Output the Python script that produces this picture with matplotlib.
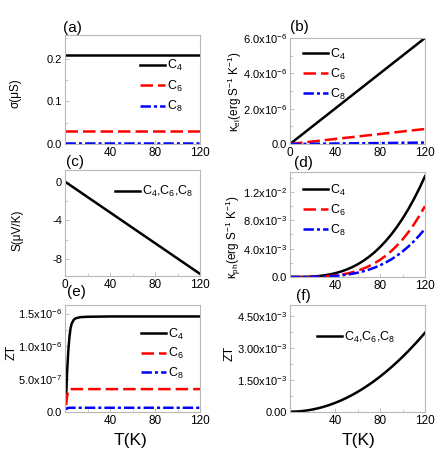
import matplotlib
matplotlib.use("Agg")
import matplotlib.pyplot as plt
from matplotlib import font_manager
from matplotlib.ticker import FixedLocator, MultipleLocator

names = {f.name for f in font_manager.fontManager.ttflist}
FONT = "Liberation Sans Narrow" if "Liberation Sans Narrow" in names else "Liberation Sans"
plt.rcParams["font.family"] = [FONT, "DejaVu Sans"]
plt.rcParams["mathtext.fontset"] = "custom"
plt.rcParams["mathtext.rm"] = FONT
plt.rcParams["mathtext.it"] = FONT
plt.rcParams["mathtext.bf"] = FONT
plt.rcParams["mathtext.default"] = "regular"
plt.rcParams["lines.scale_dashes"] = False

# ---------------- data ----------------
T_flat = [0, 120]
sigma_C4 = [0.21, 0.21]
sigma_C6 = [0.03, 0.03]
sigma_C8 = [0.003, 0.003]

T_lin = [0, 120]
kel_C4 = [0.0, 6.0e-6]
kel_C6 = [0.0, 0.85e-6]
kel_C8 = [0.0, 0.08e-6]

S_all = [0.0, -9.5]

T_grid = [0, 5, 10, 15, 20, 25, 30, 35, 40, 45, 50, 55, 60,
          65, 70, 75, 80, 85, 90, 95, 100, 105, 110, 115, 120]
kph_C4 = [0, 0.000001, 0.0000082, 0.0000277, 0.0000657, 0.000128, 0.000222, 0.000352,
          0.000526, 0.000749, 0.001027, 0.001367, 0.001775, 0.002257, 0.002819, 0.003467,
          0.004207, 0.005047, 0.005991, 0.007045, 0.008218, 0.009513, 0.010938, 0.012498, 0.0142]
kph_C6 = [0, 0.00000015, 0.0000017, 0.0000069, 0.000019, 0.000041, 0.000078, 0.000134,
          0.000214, 0.000323, 0.000467, 0.000652, 0.000884, 0.00117, 0.00152, 0.00193,
          0.00242, 0.00299, 0.00365, 0.00442, 0.00528, 0.00627, 0.00738, 0.00862, 0.0100]
kph_C8 = [0, 0.0000001, 0.00000115, 0.0000047, 0.0000129, 0.000028, 0.000053, 0.000091,
          0.000146, 0.00022, 0.000318, 0.000443, 0.000601, 0.000796, 0.00103, 0.00131,
          0.00165, 0.00203, 0.00248, 0.0030, 0.00359, 0.00426, 0.00502, 0.00586, 0.0068]

T_zt4 = [1, 1.5, 2, 3, 4, 5, 6, 8, 10, 14, 20, 40, 120]
ZT_C4 = [0.2e-6, 0.45e-6, 0.65e-6, 0.95e-6, 1.15e-6, 1.28e-6, 1.35e-6, 1.41e-6, 1.43e-6,
         1.445e-6, 1.45e-6, 1.455e-6, 1.455e-6]
T_zt6 = [1, 2, 3, 4, 6, 120]
ZT_C6 = [0.1e-6, 0.25e-6, 0.32e-6, 0.34e-6, 0.345e-6, 0.345e-6]
T_zt8 = [1, 2, 4, 120]
ZT_C8 = [0.03e-6, 0.055e-6, 0.06e-6, 0.06e-6]

ZT_all = [0, 0.0000064, 0.0000257, 0.0000578, 0.000103, 0.000161, 0.000231, 0.000315,
          0.000411, 0.00052, 0.000642, 0.000777, 0.000925, 0.001086, 0.001259, 0.001445,
          0.001644, 0.001857, 0.002081, 0.002319, 0.002569, 0.002833, 0.003109, 0.003398, 0.0037]

x_ticks = [0, 40, 80, 120]
labels_C = ["C$_4$", "C$_6$", "C$_8$"]
label_all = "C$_4$,C$_6$,C$_8$"

# ---------------- styling ----------------
W, H = 436, 463
fig = plt.figure(figsize=(W / 100, H / 100), dpi=100)

STY = [dict(color="black", lw=1.8, ls="-"),
       dict(color="#ff0000", lw=1.8, dashes=(9, 3.6)),
       dict(color="#0000ff", lw=1.8, dashes=(7.5, 2.2, 2.2, 2.2))]

FRAME = "#b8b8b8"
TICKFS = 8


def make_ax(x0, y0, x1, y1):
    ax = fig.add_axes([x0 / W, 1 - y1 / H, (x1 - x0) / W, (y1 - y0) / H])
    for s in ax.spines.values():
        s.set_color(FRAME)
        s.set_linewidth(0.8)
    ax.tick_params(direction="in", which="both", colors=FRAME, labelcolor="black",
                   labelsize=TICKFS, pad=2)
    ax.tick_params(axis="x", labelsize=8.5, pad=2.5)
    ax.tick_params(which="major", length=3, width=0.6)
    ax.tick_params(which="minor", length=2, width=0.5)
    ax.set_xlim(0, 120)
    ax.xaxis.set_major_locator(FixedLocator(x_ticks))
    ax.xaxis.set_minor_locator(MultipleLocator(20))
    return ax


def legend(ax, x0, y0, labels, styles, dy):
    # x0,y0 : pixel position in figure of first handle start / row center
    for i, (lab, st) in enumerate(zip(labels, styles)):
        y = y0 + i * dy
        ax.plot([x0 / W, (x0 + 25) / W], [1 - y / H, 1 - y / H], transform=fig.transFigure,
                clip_on=False, **st)
        fig.text((x0 + 27) / W, 1 - (y + 1) / H, lab, fontsize=9, va="center", ha="left")


def fig_text(x, y, s, **kw):
    fig.text(x / W, 1 - y / H, s, **kw)


# (a)
axa = make_ax(65, 35, 200, 144)
axa.plot(T_flat, sigma_C4, **STY[0])
axa.plot(T_flat, sigma_C6, **STY[1])
axa.plot(T_flat, sigma_C8, **STY[2])
axa.set_ylim(0, 0.256)
axa.set_yticks([0.0, 0.1, 0.2])
axa.set_yticklabels(["0.0", "0.1", "0.2"])
axa.set_xticklabels(["", "40", "80", "120"])
axa.yaxis.set_minor_locator(MultipleLocator(0.05))
legend(axa, 140, 64.5, labels_C, STY, 20.5)

# (b)
axb = make_ax(290, 38, 425, 144)
axb.plot(T_lin, kel_C4, **STY[0])
axb.plot(T_lin, kel_C6, **STY[1])
axb.plot(T_lin, kel_C8, **STY[2])
axb.set_ylim(0, 6.0e-6)
axb.set_yticks([0, 2e-6, 4e-6, 6e-6])
axb.set_yticklabels(["0.0", "2.0x10$^{-6}$", "4.0x10$^{-6}$", "6.0x10$^{-6}$"])
axb.set_xticklabels(["0", "40", "80", "120"])
axb.yaxis.set_minor_locator(MultipleLocator(1e-6))
legend(axb, 303, 53, labels_C, STY, 20)

# (c)
axc = make_ax(65, 170, 200, 276)
axc.plot(T_lin, S_all, **STY[0])
axc.set_ylim(-9.72, 1.2)
axc.set_yticks([0, -4, -8])
axc.set_yticklabels(["0", "-4", "-8"])
axc.set_xticklabels(["0", "40", "80", "120"])
axc.yaxis.set_minor_locator(MultipleLocator(2))
legend(axc, 115, 190.5, [label_all], STY[:1], 20)

# (d)
axd = make_ax(290, 172, 425, 277)
axd.plot(T_grid, kph_C4, **STY[0])
axd.plot(T_grid, kph_C6, **STY[1])
axd.plot(T_grid, kph_C8, **STY[2])
axd.set_ylim(0, 0.0148)
axd.set_yticks([0, 0.004, 0.008, 0.012])
axd.set_yticklabels(["0.0", "4.0x10$^{-3}$", "8.0x10$^{-3}$", "1.2x10$^{-2}$"])
axd.set_xticklabels(["", "40", "80", "120"])
axd.yaxis.set_minor_locator(MultipleLocator(0.002))
legend(axd, 303, 189, labels_C, STY, 20)

# (e)
axe = make_ax(65, 305, 200, 411.7)
axe.plot(T_zt4, ZT_C4, **STY[0])
axe.plot(T_zt6, ZT_C6, **STY[1])
axe.plot(T_zt8, ZT_C8, **STY[2])
axe.set_ylim(0, 1.63e-6)
axe.set_yticks([0, 0.5e-6, 1.0e-6, 1.5e-6])
axe.set_yticklabels(["0.0", "5.0x10$^{-7}$", "1.0x10$^{-6}$", "1.5x10$^{-6}$"])
axe.set_xticklabels(["", "40", "80", "120"])
axe.yaxis.set_minor_locator(MultipleLocator(0.25e-6))
legend(axe, 141, 333, labels_C, STY, 19.5)

# (f)
axf = make_ax(290, 305, 425, 411.7)
axf.plot(T_grid, ZT_all, **STY[0])
axf.set_ylim(0, 0.005)
axf.set_yticks([0, 0.0015, 0.003, 0.0045])
axf.set_yticklabels(["0.00", "1.50x10$^{-3}$", "3.00x10$^{-3}$", "4.50x10$^{-3}$"])
axf.set_xticklabels(["", "40", "80", "120"])
axf.yaxis.set_minor_locator(MultipleLocator(0.00075))
legend(axf, 317, 336, [label_all], STY[:1], 20)

# panel letters
for (x, y, s) in [(63, 28, "(a)"), (290, 27, "(b)"), (66, 162, "(c)"),
                  (294, 163, "(d)"), (67, 292, "(e)"), (296, 296, "(f)")]:
    fig_text(x, y, s, fontsize=11, ha="left", va="center")

# y labels
fig_text(15, 93, "σ(μS)", fontsize=8.5, rotation=90, ha="center", va="center")
fig_text(235, 92, r"$\kappa_{el}$(erg S$^{-1}$ K$^{-1}$)", fontsize=8.5, rotation=90,
         ha="center", va="center")
fig_text(17, 230, "S(μV/K)", fontsize=8.5, rotation=90, ha="center", va="center")
fig_text(233, 237, r"$\kappa_{ph}$(erg S$^{-1}$ K$^{-1}$)", fontsize=8.5, rotation=90,
         ha="center", va="center")
fig_text(12, 352, "ZT", fontsize=9, rotation=90, ha="center", va="center")
fig_text(230, 353, "ZT", fontsize=9, rotation=90, ha="center", va="center")

# x labels
fig_text(130, 441, "T(K)", fontsize=12.5, ha="center", va="center")
fig_text(358, 441, "T(K)", fontsize=12.5, ha="center", va="center")

fig.savefig("out.png", dpi=100)
